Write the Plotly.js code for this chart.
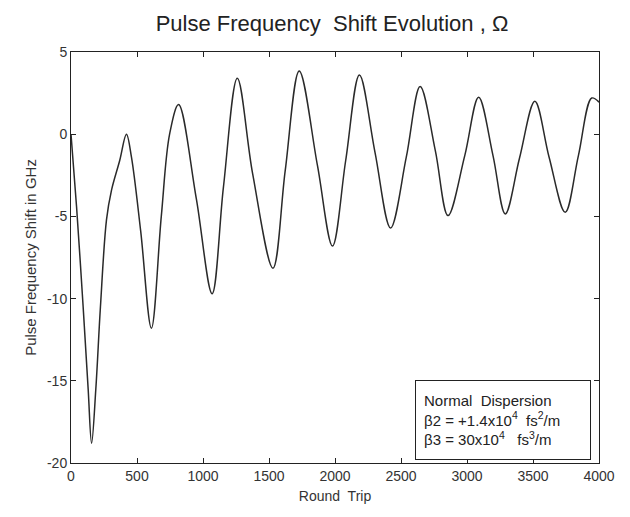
<!DOCTYPE html>
<html>
<head>
<meta charset="utf-8">
<script src="https://cdn.plot.ly/plotly-3.0.1.min.js"></script>
<style>body{margin:0;background:#fff;}#chart{width:630px;height:517px;}</style>
</head>
<body>
<div id="chart"></div>
<script>
const roundTrip = [0, 42, 92, 130, 156, 188, 223, 269, 307, 369, 420, 458, 528, 609, 684, 747, 815, 949, 1069, 1155, 1260, 1376, 1530, 1623, 1729, 1867, 1981, 2081, 2185, 2303, 2421, 2540, 2645, 2760, 2856, 2983, 3088, 3197, 3290, 3398, 3514, 3622, 3744, 3844, 3945, 4000];
const freqShift = [0.0, -4.4, -10.5, -15.5, -18.8, -15.5, -10.5, -5.2, -3.4, -1.6, 0.0, -1.4, -5.9, -11.8, -5.0, 0.0, 1.8, -3.9, -9.7, -3.2, 3.4, -2.4, -8.15, -2.2, 3.85, -1.9, -6.8, -1.6, 3.6, -1.1, -5.7, -1.4, 2.9, -1.0, -4.95, -1.3, 2.25, -1.3, -4.85, -1.45, 2.0, -1.4, -4.75, -1.3, 2.2, 1.95];

const xTickVals = [0, 500, 1000, 1500, 2000, 2500, 3000, 3500, 4000];
const xTickText = ['0', '500', '1000', '1500', '2000', '2500', '3000', '3500', '4000'];
const yTickVals = [-20, -15, -10, -5, 0, 5];
const yTickText = ['-20', '-15', '-10', '-5', '0', '5'];

const titleText = 'Pulse Frequency\u00a0 Shift Evolution , \u03a9';
const xTitle = 'Round\u00a0 Trip';
const yTitle = 'Pulse Frequency Shift in GHz';
const noteText = 'Normal\u00a0 Dispersion<br>\u03b22 = +1.4x10<sup>4</sup>\u00a0 fs<sup>2</sup>/m<br>\u03b23 = 30x10<sup>4</sup>\u00a0\u00a0 fs<sup>3</sup>/m';

const FONT = 'Arial, Liberation Sans, sans-serif';
const axisCommon = {
  showline: true, linecolor: '#222', linewidth: 1, mirror: 'ticks',
  ticks: 'inside', ticklen: 5, tickcolor: '#222', tickwidth: 1,
  showgrid: false, zeroline: false,
  tickfont: {family: FONT, size: 14, color: '#333'}
};

const data = [{
  x: roundTrip, y: freqShift, type: 'scatter', mode: 'lines',
  line: {color: '#2a2a2a', width: 1.5, shape: 'spline', smoothing: 1},
  hoverinfo: 'skip'
}];

const layout = {
  width: 630, height: 517,
  margin: {l: 71, r: 31, t: 52, b: 54},
  paper_bgcolor: '#fff', plot_bgcolor: '#fff',
  showlegend: false,
  title: {text: titleText, font: {family: FONT, size: 22, color: '#222'},
          x: 0.527, xanchor: 'center', y: 0.955, yanchor: 'middle'},
  xaxis: Object.assign({}, axisCommon, {
    range: [0, 4000], tickvals: xTickVals, ticktext: xTickText,
    title: {text: xTitle, font: {family: FONT, size: 14, color: '#333'}, standoff: 8}
  }),
  yaxis: Object.assign({}, axisCommon, {
    range: [-20, 5], tickvals: yTickVals, ticktext: yTickText,
    title: {text: yTitle, font: {family: FONT, size: 15, color: '#333'}, standoff: 6}
  }),
  annotations: [{
    text: noteText, xref: 'paper', yref: 'paper', x: 0.985, y: 0.008,
    xanchor: 'right', yanchor: 'bottom', align: 'left', valign: 'middle', showarrow: false,
    width: 158, height: 62,
    font: {family: FONT, size: 15, color: '#222'},
    bordercolor: '#222', borderwidth: 1, borderpad: 8, bgcolor: '#fff'
  }]
};

Plotly.newPlot('chart', data, layout, {displayModeBar: false, staticPlot: true});
</script>
</body>
</html>
